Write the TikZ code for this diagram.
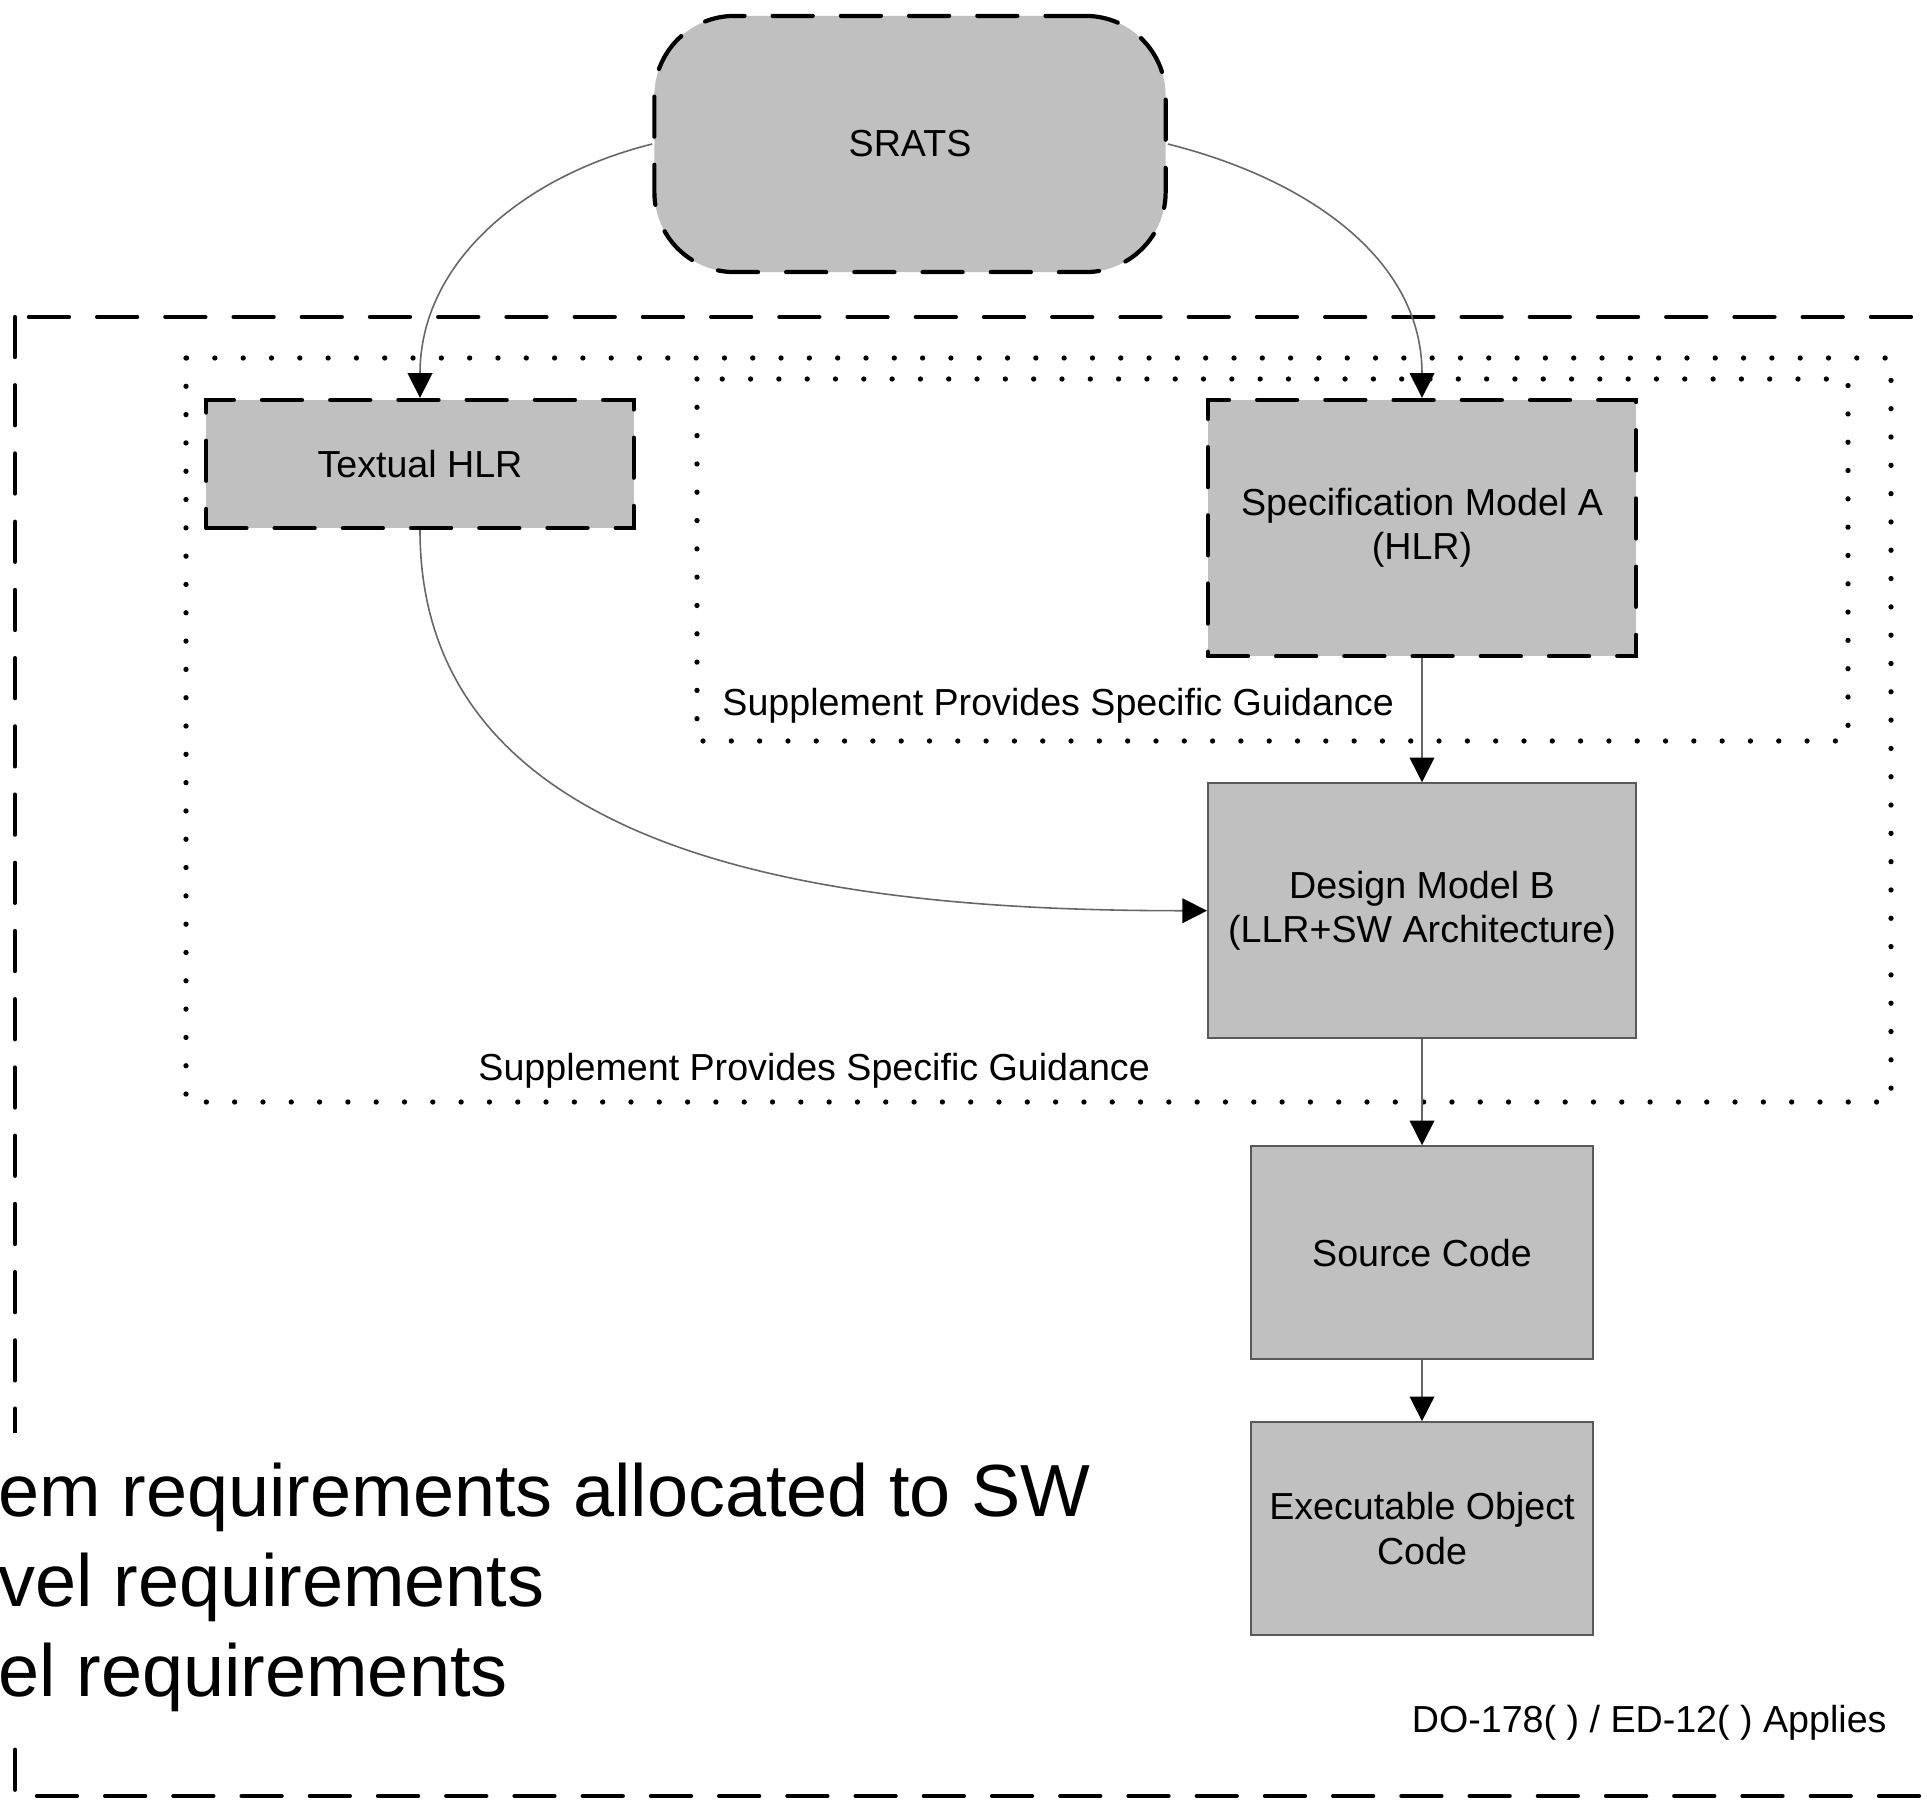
\documentclass[tikz,border=0pt]{standalone}
\usepackage{fontspec}
\setmainfont{Liberation Sans}
\usetikzlibrary{arrows.meta,positioning}
\definecolor{boxgray}{HTML}{C0C0C0}

\begin{document}
\begin{tikzpicture}[x=0.01cm, y=-0.01cm,
  every node/.style={font=\fontsize{10.7}{12.6}\selectfont, align=center},
  heavydash/.style={line width=1.2pt, dash pattern=on 11.4pt off 8pt, line cap=round},
  dotline/.style={line width=1.5pt, dash pattern=on 0pt off 8.05pt, line cap=round},
  dashbox/.style={draw=black, fill=boxgray, heavydash},
  plainbox/.style={draw=black!65, fill=boxgray, line width=0.5pt},
  link/.style={draw=black!60, line width=0.45pt, -{Triangle[length=7pt,width=7pt,color=black]}},
  bigtext/.style={font=\fontsize{21}{25.6}\selectfont, align=left, fill=white, anchor=north west, inner xsep=0pt, inner ysep=8.5pt}]
\useasboundingbox (0,0) rectangle (1927,1803);
\clip (0,0) rectangle (1927,1803);

\draw[heavydash] (15,317) rectangle (1940,1796);
\draw[dotline] (186,358) rectangle (1891,1102);
\draw[dotline] (697,379) rectangle (1848,741);

\node[dashbox, rounded corners=0.8cm, minimum width=5.11cm, minimum height=2.56cm] (srats) at (910,144) {SRATS};
\node[dashbox, minimum width=4.27cm, minimum height=1.28cm] (hlr) at (420,464) {Textual HLR};
\node[dashbox, minimum width=4.28cm, minimum height=2.56cm] (specA) at (1422,528) {Specification Model A\\(HLR)};
\node[plainbox, minimum width=4.28cm, minimum height=2.55cm, below=1.24cm of specA] (designB) {Design Model B\\(LLR+SW Architecture)};
\node[plainbox, minimum width=3.42cm, minimum height=2.13cm, below=1.06cm of designB] (source) {Source Code};
\node[plainbox, minimum width=3.42cm, minimum height=2.13cm, below=0.61cm of source] (exec) {Executable Object\\Code};

\node[anchor=west] (guideA) at (710,706) {Supplement Provides Specific Guidance};
\node[anchor=west] (guideB) at (466,1071) {Supplement Provides Specific Guidance};
\node[anchor=east] (applies) at (1899,1723) {DO-178( ) / ED-12( ) Applies};

\draw[link] (srats.west) to[out=194, in=90] (hlr.north);
\draw[link] (srats.east) to[out=-14, in=90] (specA.north);
\draw[link] (hlr.south) to[out=-90, in=180] (designB.west);
\draw[link] (specA) -- (designB);
\draw[link] (designB) -- (source);
\draw[link] (source) -- (exec);

\node[bigtext] (reqs) at (-2,1432) {em requirements allocated to SW\\vel requirements\\el requirements};
\end{tikzpicture}
\end{document}
